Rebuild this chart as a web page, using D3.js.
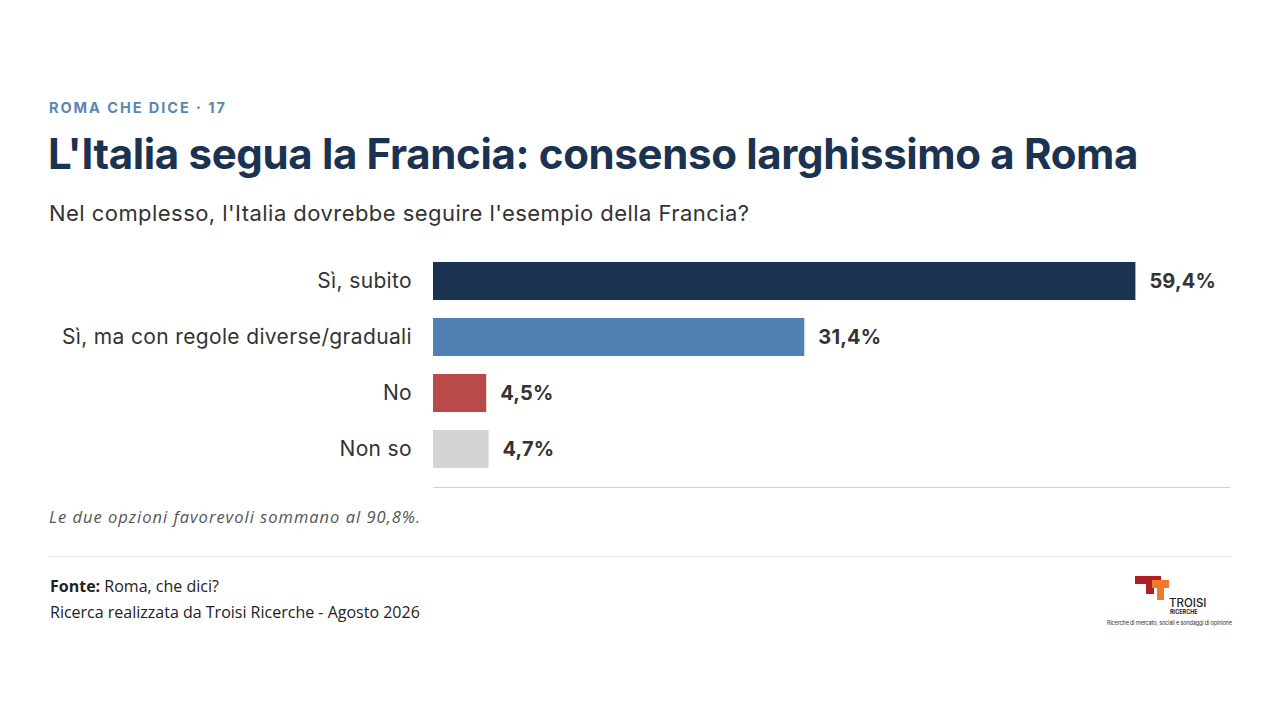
<!DOCTYPE html>
<html>
<head>
<meta charset="utf-8">
<script src="https://cdn.jsdelivr.net/npm/d3@7.9.0/dist/d3.min.js"></script>
<style>
  html, body { margin: 0; padding: 0; background: #fff; }
  svg { display: block; }
</style>
</head>
<body>
<svg id="chart" width="1280" height="720"></svg>
<script>
const categories = ['Sì, subito', 'Sì, ma con regole diverse/graduali', 'No', 'Non so'];
const values = [59.4, 31.4, 4.5, 4.7];
const colors = ['#1b3350', '#4f81b5', '#b94a4a', '#d4d4d4'];

const svg = d3.select('#chart');
const sans = 'Inter, "Noto Sans", sans-serif';

// header
svg.append('text')
  .attr('x', 49).attr('y', 113)
  .attr('font-family', sans).attr('font-size', 14.5).attr('font-weight', 700)
  .attr('letter-spacing', 1.95).attr('fill', '#5a86b0')
  .text('ROMA CHE DICE · 17');

svg.append('text')
  .attr('x', 48).attr('y', 169)
  .attr('font-family', sans).attr('font-size', 42).attr('font-weight', 700)
  .attr('letter-spacing', -0.35).attr('fill', '#1b3350')
  .text("L'Italia segua la Francia: consenso larghissimo a Roma");

svg.append('text')
  .attr('x', 49).attr('y', 221)
  .attr('font-family', sans).attr('font-size', 22).attr('fill', '#333')
  .attr('letter-spacing', 0.45)
  .text("Nel complesso, l'Italia dovrebbe seguire l'esempio della Francia?");

// scales
const x = d3.scaleLinear().domain([0, 67.4]).range([433, 1230]);
const y = d3.scaleBand().domain(categories).range([253, 477]).paddingInner(0.32).paddingOuter(0.16);

svg.selectAll('rect.bar')
  .data(categories)
  .join('rect')
  .attr('class', 'bar')
  .attr('x', x(0))
  .attr('y', d => y(d))
  .attr('width', (d, i) => x(values[i]) - x(0))
  .attr('height', y.bandwidth())
  .attr('fill', (d, i) => colors[i]);

svg.selectAll('text.cat')
  .data(categories)
  .join('text')
  .attr('class', 'cat')
  .attr('x', 412)
  .attr('y', d => y(d) + y.bandwidth() / 2)
  .attr('dy', '0.35em')
  .attr('text-anchor', 'end')
  .attr('font-family', sans).attr('font-size', 21).attr('letter-spacing', 0.35).attr('fill', '#333')
  .text(d => d);

svg.selectAll('text.val')
  .data(categories)
  .join('text')
  .attr('class', 'val')
  .attr('x', (d, i) => x(values[i]) + 14)
  .attr('y', d => y(d) + y.bandwidth() / 2)
  .attr('dy', '0.35em')
  .attr('font-family', sans).attr('font-size', 20).attr('font-weight', 700)
  .attr('letter-spacing', 0.2).attr('fill', '#333')
  .text((d, i) => values[i].toFixed(1).replace('.', ',') + '%');

// baseline
svg.append('line')
  .attr('x1', x(0)).attr('x2', x(67.4))
  .attr('y1', 487.5).attr('y2', 487.5)
  .attr('stroke', '#d0d0d0').attr('stroke-width', 1.2);

// note
svg.append('text')
  .attr('x', 49).attr('y', 523)
  .attr('font-family', '"Open Sans", sans-serif').attr('font-size', 16.5)
  .attr('font-style', 'italic').attr('letter-spacing', 1).attr('fill', '#555')
  .text('Le due opzioni favorevoli sommano al 90,8%.');

svg.append('line')
  .attr('x1', 48).attr('x2', 1231)
  .attr('y1', 556.5).attr('y2', 556.5)
  .attr('stroke', '#e4e4e4').attr('stroke-width', 1);

// footer
const foot = svg.append('text')
  .attr('x', 50).attr('y', 592)
  .attr('font-family', '"Open Sans", sans-serif').attr('font-size', 16).attr('fill', '#222');
foot.append('tspan').attr('font-weight', 700).text('Fonte:');
foot.append('tspan').text(' Roma, che dici?');

svg.append('text')
  .attr('x', 50).attr('y', 618)
  .attr('font-family', '"Open Sans", sans-serif').attr('font-size', 16).attr('fill', '#222')
  .text('Ricerca realizzata da Troisi Ricerche - Agosto 2026');

// logo
const logo = svg.append('g');
logo.append('path')
  .attr('d', 'M1135,576 H1161 V584 H1154 V594 H1146 V584 H1135 Z')
  .attr('fill', '#b01f24');
logo.append('path')
  .attr('d', 'M1152,580 H1169 V588 H1164 V600 H1157 V588 H1152 Z')
  .attr('fill', '#f0792b');
logo.append('text')
  .attr('x', 1169).attr('y', 607)
  .attr('font-family', sans).attr('font-size', 11.5).attr('font-weight', 500).attr('fill', '#222')
  .text('TROISI');
logo.append('text')
  .attr('x', 1170).attr('y', 613.5)
  .attr('font-family', sans).attr('font-size', 5.5).attr('font-weight', 700).attr('fill', '#222')
  .text('RICERCHE');
logo.append('text')
  .attr('x', 1107).attr('y', 624.5)
  .attr('font-family', sans).attr('font-size', 5.6).attr('fill', '#333')
  .attr('textLength', 125)
  .text('Ricerche di mercato, sociali e sondaggi di opinione');
</script>
</body>
</html>
